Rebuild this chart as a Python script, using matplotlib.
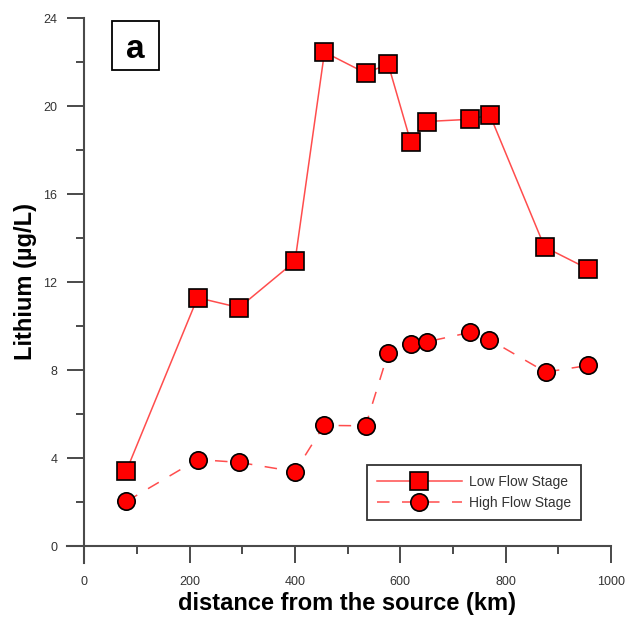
import matplotlib
matplotlib.use('Agg')
import matplotlib.pyplot as plt
from matplotlib.patches import Rectangle
from matplotlib.ticker import MultipleLocator

plt.rcParams['font.family'] = ['Liberation Sans', 'DejaVu Sans']
plt.rcParams['lines.scale_dashes'] = False

# distance from the source (km) and lithium (ug/L)
dist_low = [80, 215, 294, 400, 456, 534, 577, 620, 650, 732, 770, 874, 957]
li_low = [3.45, 11.3, 10.85, 12.95, 22.45, 21.5, 21.9, 18.35, 19.3, 19.4, 19.6, 13.6, 12.6]

dist_high = [80, 215, 294, 400, 455, 534, 577, 620, 651, 732, 769, 876, 956]
li_high = [2.05, 3.95, 3.82, 3.4, 5.5, 5.48, 8.8, 9.2, 9.3, 9.72, 9.4, 7.92, 8.22]

line_col = '#ff4d4d'
axis_col = '#4a4a4a'

fig = plt.figure(figsize=(6.3, 6.17), dpi=100)
ax = fig.add_axes([0.1063, 0.0875, 0.8635, 0.8833])

ax.plot(dist_low, li_low, color=line_col, lw=1.1, marker='s', ms=13,
        mfc='#ff0000', mec='black', mew=1.2, label='Low Flow Stage', zorder=3)
ax.plot(dist_high, li_high, color=line_col, lw=1.1, dashes=(9, 9), marker='o', ms=12.5,
        mfc='#ff0000', mec='black', mew=1.2, label='High Flow Stage', zorder=3)

ax.set_xlim(-33, 1000)
ax.set_ylim(-0.75, 24)

for s in ['top', 'right']:
    ax.spines[s].set_visible(False)
for s in ['left', 'bottom']:
    ax.spines[s].set_position(('data', 0))
    ax.spines[s].set_color(axis_col)
    ax.spines[s].set_linewidth(1.5)
ax.spines['left'].set_bounds(-0.75, 24)
ax.spines['bottom'].set_bounds(-33, 1000)

ax.xaxis.set_minor_locator(MultipleLocator(100))
ax.yaxis.set_minor_locator(MultipleLocator(2))
ax.set_xticks([0, 200, 400, 600, 800, 1000])
ax.set_yticks([0, 4, 8, 12, 16, 20, 24])

ax.tick_params(which='major', direction='out', length=12.5, width=1.4, color=axis_col,
               labelsize=9, labelcolor='#333333')
ax.tick_params(which='minor', direction='out', length=6, width=1.4, color=axis_col)
ax.tick_params(axis='y', pad=7)
ax.tick_params(axis='x', pad=9)

fig.text(0.551, 0.0113, 'distance from the source (km)', fontsize=17, fontweight='bold',
         ha='center', va='baseline')
fig.text(0.040, 0.543, 'Lithium (µg/L)', fontsize=17, fontweight='bold',
         rotation=90, ha='center', va='center')

# panel label in a box
fig.patches.append(Rectangle((0.1778, 0.8865), 0.0746, 0.0794, transform=fig.transFigure,
                             fc='white', ec='black', lw=1.3))
fig.text(0.2151, 0.906, 'a', fontsize=24, fontweight='bold', ha='center', va='baseline')

leg = ax.legend(loc='upper left', bbox_to_anchor=(0.5825, 0.2465), bbox_transform=fig.transFigure,
                fontsize=10, handlelength=6.1, frameon=True, fancybox=False,
                edgecolor='black', borderpad=0.72, labelspacing=0.5, handletextpad=0.5,
                borderaxespad=0)
leg.get_frame().set_linewidth(1.3)
for t in leg.get_texts():
    t.set_color('#333333')

fig.savefig('out.png', dpi=100)
